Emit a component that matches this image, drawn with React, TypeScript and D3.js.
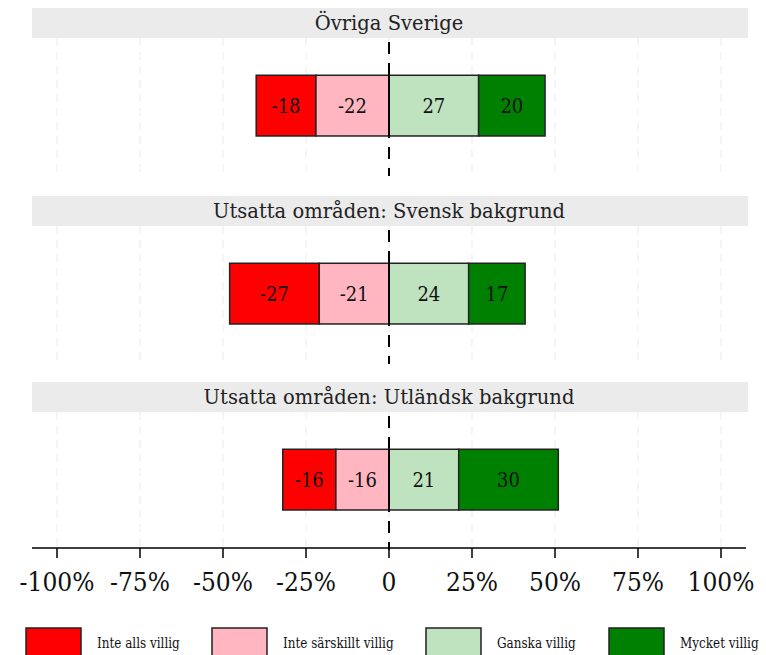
import React from "react";
import * as d3 from "d3";

const panels = ["Övriga Sverige", "Utsatta områden: Svensk bakgrund", "Utsatta områden: Utländsk bakgrund"];
const inteAlls = [-18, -27, -16];
const inteSarskilt = [-22, -21, -16];
const ganska = [27, 24, 21];
const mycket = [20, 17, 30];
const seriesNames = ["Inte alls villig", "Inte särskillt villig", "Ganska villig", "Mycket villig"];
const seriesColors = ["#ff0000", "#ffb6c1", "#bfe2bf", "#008000"];
const tickValues = [-100, -75, -50, -25, 0, 25, 50, 75, 100];
const tickLabels = ["-100%", "-75%", "-50%", "-25%", "0", "25%", "50%", "75%", "100%"];

const W = 766;
const H = 655;
const font = "DejaVu Serif";

export default function App() {
  const x = d3.scaleLinear().domain([-100, 100]).range([57, 721]);
  const left = 32;
  const right = 748;
  const panelTops = [8, 196, 382];
  const stripH = 30;
  const plotH = 138;
  const y = d3.scaleLinear().domain([0, 1]).range([0, plotH]);
  const barTop = 0.27;
  const barBot = 0.71;

  const segsFor = (i: number) => {
    const a = inteAlls[i], b = inteSarskilt[i], c = ganska[i], d = mycket[i];
    return [
      { x0: b + a, x1: b, v: a, k: 0 },
      { x0: b, x1: 0, v: b, k: 1 },
      { x0: 0, x1: c, v: c, k: 2 },
      { x0: c, x1: c + d, v: d, k: 3 },
    ];
  };

  const axisY = panelTops[2] + stripH + plotH - 2;
  const legendX = [26, 212, 426, 609];

  return (
    <svg width={W} height={H} style={{ position: "absolute", left: 0, top: 0, background: "#fff", fontFamily: font }}>
      {panels.map((name, i) => {
        const top = panelTops[i];
        const pTop = top + stripH;
        return (
          <g key={name}>
            <rect x={left} y={top} width={right - left} height={stripH} fill="#ebebeb" />
            <text transform={`translate(${x(0)},${top + 22}) scale(0.93,1)`} textAnchor="middle" fontSize={21} fill="#222">
              {name}
            </text>
            {tickValues.map((t) => (
              <line key={t} x1={x(t)} x2={x(t)} y1={pTop} y2={pTop + plotH} stroke="#f2f2f2" strokeWidth={1.5} strokeDasharray="8,6" />
            ))}
            <line x1={x(0)} x2={x(0)} y1={pTop + 4} y2={pTop + plotH} stroke="#000" strokeWidth={2} strokeDasharray="12,9" />
            {segsFor(i).map((s) => (
              <g key={s.k}>
                <rect
                  x={x(s.x0)}
                  y={pTop + y(barTop)}
                  width={x(s.x1) - x(s.x0)}
                  height={y(barBot) - y(barTop)}
                  fill={seriesColors[s.k]}
                  stroke="#222"
                  strokeWidth={1.5}
                />
                <text
                  transform={`translate(${(x(s.x0) + x(s.x1)) / 2},${pTop + y((barTop + barBot) / 2) + 7}) scale(0.9,1)`}
                  textAnchor="middle"
                  fontSize={20}
                  fill="#111"
                >
                  {s.v}
                </text>
              </g>
            ))}
            <line x1={x(0)} x2={x(0)} y1={pTop + y(barTop)} y2={pTop + y(barBot)} stroke="#000" strokeWidth={2} />
          </g>
        );
      })}
      <line x1={left} x2={right - 2} y1={axisY} y2={axisY} stroke="#000" strokeWidth={1.5} />
      {tickValues.map((t, j) => (
        <g key={t}>
          <line x1={x(t)} x2={x(t)} y1={axisY} y2={axisY + 10} stroke="#000" strokeWidth={1.5} />
          <text transform={`translate(${x(t)},${axisY + 43}) scale(0.9,1)`} textAnchor="middle" fontSize={26} fill="#111">
            {tickLabels[j]}
          </text>
        </g>
      ))}
      {seriesNames.map((n, k) => (
        <g key={n}>
          <rect x={legendX[k]} y={628} width={55} height={32} fill={seriesColors[k]} stroke="#222" strokeWidth={1.5} />
          <text transform={`translate(${legendX[k] + 71},648) scale(0.8,1)`} fontSize={15} fill="#111">
            {n}
          </text>
        </g>
      ))}
    </svg>
  );
}
